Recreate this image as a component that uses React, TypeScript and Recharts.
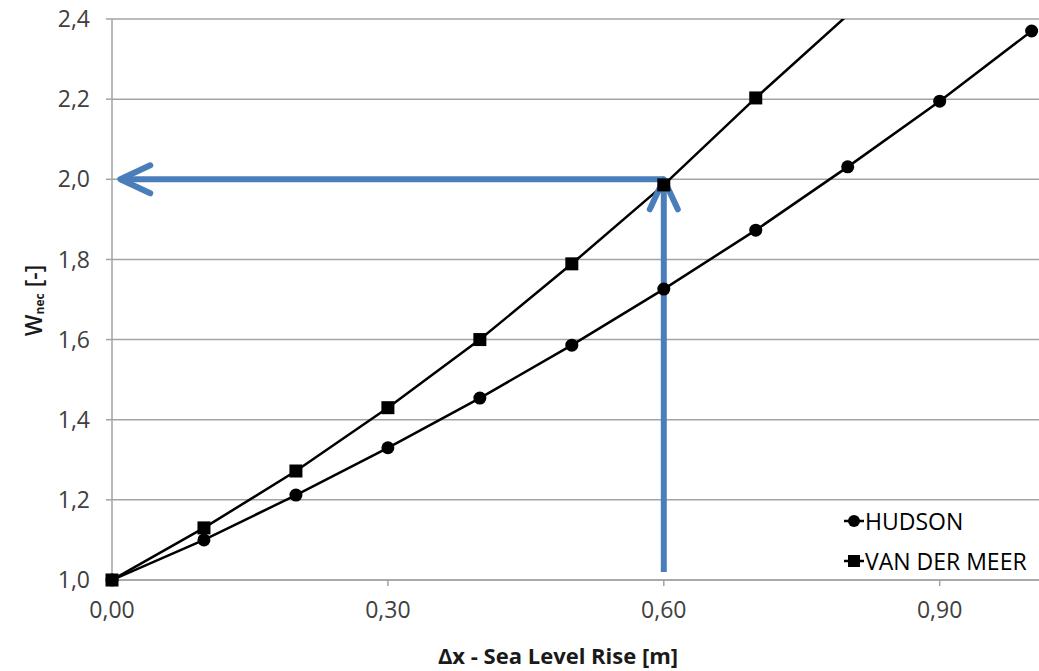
import {
  CartesianGrid,
  Legend,
  Line,
  LineChart,
  ReferenceLine,
  XAxis,
  YAxis,
} from "recharts";

const seaLevelRise = [0, 0.1, 0.2, 0.3, 0.4, 0.5, 0.6, 0.7, 0.8, 0.9, 1.0];
const hudson = [1.0, 1.1, 1.212, 1.33, 1.454, 1.586, 1.726, 1.873, 2.031, 2.195, 2.37];
const vanDerMeer = [1.0, 1.13, 1.272, 1.43, 1.6, 1.789, 1.986, 2.203, 2.41, null, null];

const xTicks = [0, 0.3, 0.6, 0.9];
const yTicks = [1.0, 1.2, 1.4, 1.6, 1.8, 2.0, 2.2, 2.4];

const seriesNames = ["HUDSON", "VAN DER MEER"];

// reading guide: 0.6 m rise -> W_nec = 2.0
const guideUp = [
  { x: 0.6, y: 1.02 },
  { x: 0.6, y: 2.0 },
];
const guideLeft = [
  { x: 0.6, y: 2.0 },
  { x: 0.009, y: 2.0 },
];

const X_DOMAIN: [number, number] = [0, 1.008];
const Y_MAX = 2.4;
const Y_DOMAIN: [number, number] = [1.0, Y_MAX];

const rows = seaLevelRise.map((x, i) => ({
  x,
  hudson: hudson[i],
  vanDerMeer: vanDerMeer[i],
}));

// markers only where the point is inside the plot (Excel hides the rest)
const markerRows = rows.map((r) => ({
  x: r.x,
  hudson: r.hudson <= Y_MAX ? r.hudson : null,
  vanDerMeer: r.vanDerMeer != null && r.vanDerMeer <= Y_MAX ? r.vanDerMeer : null,
}));

const W = 1039;
const H = 671;
const PLOT = { top: 19, left: 112, bottom: 91 };
const FONT = "'Open Sans', sans-serif";
const GRID = "#A3A3A3";
const BLUE = "#4A7EBB";

const fmt = (v: number, digits: number) => Number(v).toFixed(digits).replace(".", ",");

function CircleDot(props: any) {
  const { cx, cy, value } = props;
  if (cx == null || cy == null || value == null) return null;
  return <circle cx={cx} cy={cy} r={6.5} fill="#000" />;
}

function SquareDot(props: any) {
  const { cx, cy, value } = props;
  if (cx == null || cy == null || value == null) return null;
  return <rect x={cx - 6.5} y={cy - 6.5} width={13} height={13} fill="#000" />;
}

function Arrow(props: any) {
  const { x1, y1, x2, y2 } = props;
  if ([x1, y1, x2, y2].some((v) => v == null || Number.isNaN(v))) return null;
  const len = Math.hypot(x2 - x1, y2 - y1) || 1;
  const ux = (x2 - x1) / len;
  const uy = (y2 - y1) / len;
  const back = 30;
  const side = 14;
  const ax = x2 - ux * back;
  const ay = y2 - uy * back;
  return (
    <g stroke={BLUE} strokeWidth={6} fill="none" strokeLinecap="round" strokeLinejoin="round">
      <line x1={x1} y1={y1} x2={x2} y2={y2} strokeLinecap="butt" />
      <polyline
        points={`${ax - uy * side},${ay + ux * side} ${x2},${y2} ${ax + uy * side},${ay - ux * side}`}
      />
    </g>
  );
}

function LegendBox() {
  return (
    <div style={{ fontFamily: FONT, fontSize: 23, color: "#000", lineHeight: "40px" }}>
      {seriesNames.map((name, i) => (
        <div key={name} style={{ display: "flex", alignItems: "center", whiteSpace: "nowrap" }}>
          <svg width={22} height={14}>
            <line x1={1} y1={7} x2={21} y2={7} stroke="#000" strokeWidth={2.5} />
            {i === 0 ? (
              <circle cx={11} cy={7} r={6} fill="#000" />
            ) : (
              <rect x={5} y={1} width={12} height={12} fill="#000" />
            )}
          </svg>
          <span>{name}</span>
        </div>
      ))}
    </div>
  );
}

function YLabel(props: any) {
  const vb = props.viewBox || {};
  const cx = 33;
  const cy = (vb.y ?? 19) + (vb.height ?? 561) / 2 + 1;
  return (
    <text
      x={cx}
      y={cy}
      transform={`rotate(-90, ${cx}, ${cy})`}
      textAnchor="middle"
      dominantBaseline="central"
      fontFamily={FONT}
      fontWeight={600}
      fontSize={23}
      fill="#1a1a1a"
    >
      W
      <tspan fontSize={12} fontWeight="bold" dy={6}>nec</tspan>
      <tspan dy={-6}>{"  [-]"}</tspan>
    </text>
  );
}

function XLabel(props: any) {
  const vb = props.viewBox || {};
  const y = (vb.y ?? 580) + 75;
  return (
    <text
      x={558}
      y={y}
      textAnchor="middle"
      dominantBaseline="central"
      fontFamily={FONT}
      fontWeight="bold"
      fontSize={22}
      fill="#1a1a1a"
    >
      Δx - Sea Level Rise [m]
    </text>
  );
}

export default function App() {
  return (
    <div style={{ position: "absolute", left: 0, top: 0, width: W, height: H, background: "#fff" }}>
      <div style={{ position: "absolute", left: 0, top: 0 }}>
        <LineChart
          width={W}
          height={H}
          data={rows}
          margin={{ top: PLOT.top, right: 0, bottom: 0, left: 0 }}
        >
          <CartesianGrid vertical={false} stroke={GRID} strokeWidth={1.5} />
          <XAxis
            type="number"
            dataKey="x"
            domain={X_DOMAIN}
            ticks={xTicks}
            allowDataOverflow
            height={PLOT.bottom}
            stroke={GRID}
            strokeWidth={1.5}
            tickSize={6}
            tickMargin={16}
            tick={{ fill: "#404040", fontSize: 23, fontFamily: FONT }}
            tickFormatter={(v: number) => fmt(v, 2)}
            label={{ content: XLabel }}
          />
          <YAxis
            type="number"
            domain={Y_DOMAIN}
            ticks={yTicks}
            allowDataOverflow
            width={PLOT.left}
            stroke={GRID}
            strokeWidth={1.5}
            tickSize={6}
            tickMargin={16}
            tick={{ fill: "#404040", fontSize: 23, fontFamily: FONT }}
            tickFormatter={(v: number) => fmt(v, 1)}
            label={{ content: YLabel }}
          />
          <Line
            dataKey="hudson"
            name={seriesNames[0]}
            stroke="#000"
            strokeWidth={2.5}
            dot={false}
            activeDot={false}
            isAnimationActive={false}
          />
          <Line
            dataKey="vanDerMeer"
            name={seriesNames[1]}
            stroke="#000"
            strokeWidth={2.5}
            dot={false}
            activeDot={false}
            isAnimationActive={false}
          />
          <Legend
            layout="vertical"
            align="center"
            verticalAlign="middle"
            content={<LegendBox />}
            wrapperStyle={{ left: 843, top: 501, width: 196 }}
          />
        </LineChart>
      </div>
      {/* markers and guide arrows on top, unclipped so edge markers show whole */}
      <div style={{ position: "absolute", left: 0, top: 0, pointerEvents: "none" }}>
        <LineChart
          width={W}
          height={H}
          data={markerRows}
          margin={{ top: PLOT.top, right: 0, bottom: PLOT.bottom, left: PLOT.left }}
        >
          <XAxis type="number" dataKey="x" domain={X_DOMAIN} hide />
          <YAxis type="number" domain={Y_DOMAIN} hide />
          <Line
            dataKey="hudson"
            stroke="none"
            dot={<CircleDot />}
            activeDot={false}
            legendType="none"
            isAnimationActive={false}
          />
          <Line
            dataKey="vanDerMeer"
            stroke="none"
            dot={<SquareDot />}
            activeDot={false}
            legendType="none"
            isAnimationActive={false}
          />
          <ReferenceLine segment={guideUp} shape={<Arrow />} ifOverflow="visible" />
          <ReferenceLine segment={guideLeft} shape={<Arrow />} ifOverflow="visible" />
        </LineChart>
      </div>
    </div>
  );
}
